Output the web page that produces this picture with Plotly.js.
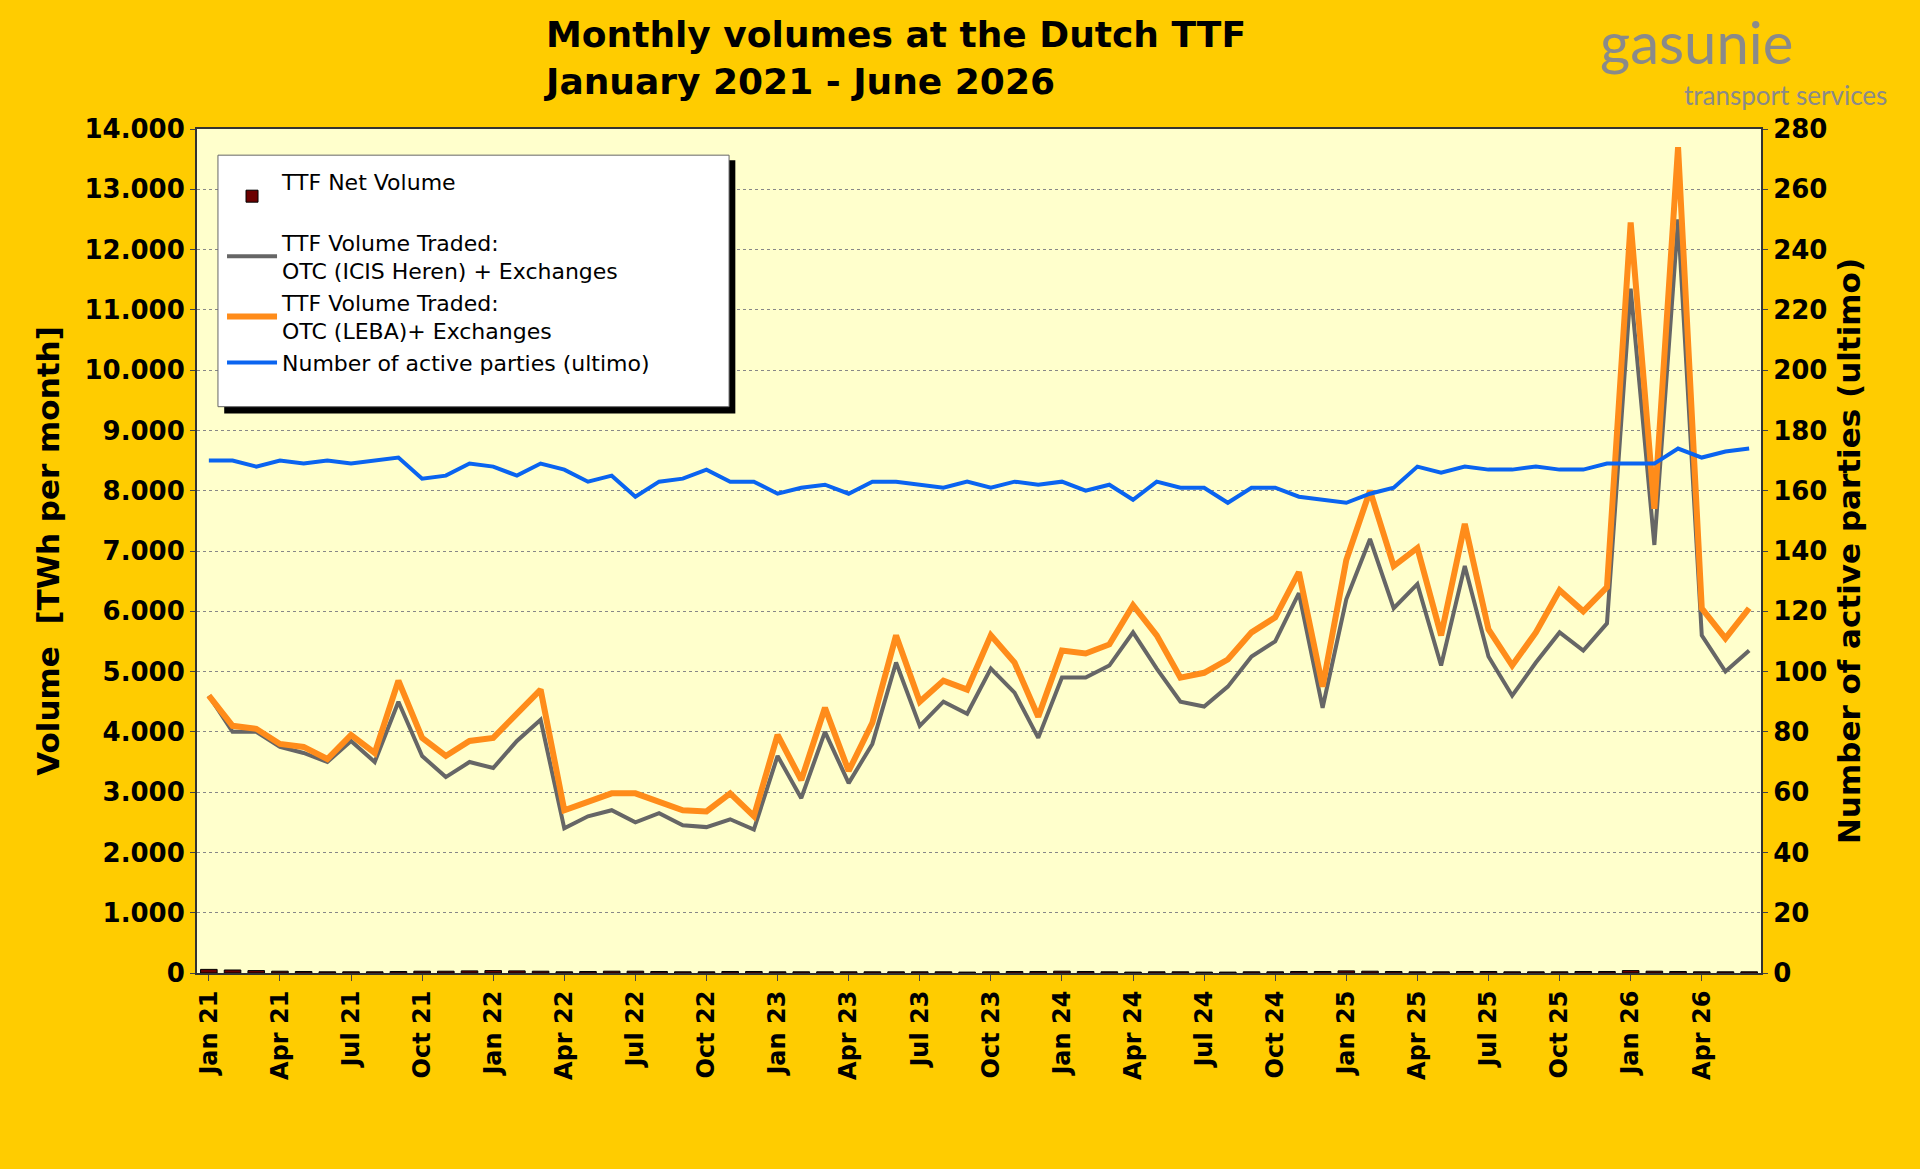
<!DOCTYPE html>
<html><head><meta charset="utf-8">
<script src="https://cdn.plot.ly/plotly-3.0.1.min.js"></script>
<style>body{margin:0;background:#FFCC00}</style></head>
<body><div id="chart" style="width:1920px;height:1169px"></div>
<script>
const months = [];
const mn = ["Jan","Feb","Mar","Apr","May","Jun","Jul","Aug","Sep","Oct","Nov","Dec"];
for (let y = 21; y <= 26; y++) for (let m = 0; m < 12; m++) { if (y === 26 && m > 5) break; months.push(mn[m] + " " + y); }
const tickLabels = months.filter((_, i) => i % 3 === 0);
const netVolume = [60,50,40,30,25,20,20,20,25,30,30,35,40,35,30,20,25,30,30,25,20,20,25,25,20,20,20,20,20,20,20,20,15,20,25,25,30,25,20,15,20,20,15,15,20,20,25,25,35,30,25,20,20,25,25,20,20,20,25,25,40,30,25,20,20,20];
const volICIS = [4.6,4.0,4.0,3.75,3.65,3.5,3.85,3.5,4.5,3.6,3.25,3.5,3.4,3.85,4.2,2.4,2.6,2.7,2.5,2.65,2.45,2.42,2.55,2.38,3.6,2.9,4.0,3.15,3.8,5.15,4.1,4.5,4.3,5.05,4.65,3.9,4.9,4.9,5.1,5.65,5.05,4.5,4.42,4.75,5.25,5.5,6.3,4.4,6.2,7.2,6.05,6.45,5.1,6.75,5.25,4.6,5.15,5.65,5.35,5.8,11.35,7.1,12.5,5.6,5.0,5.35].map(v=>v*1000);
const volLEBA = [4.6,4.1,4.05,3.8,3.75,3.55,3.95,3.65,4.85,3.9,3.6,3.85,3.9,4.3,4.7,2.7,2.85,2.98,2.98,2.85,2.7,2.68,2.98,2.6,3.95,3.2,4.4,3.35,4.15,5.6,4.5,4.85,4.7,5.6,5.15,4.25,5.35,5.3,5.45,6.1,5.6,4.9,4.98,5.2,5.65,5.9,6.65,4.75,6.85,8.0,6.75,7.05,5.6,7.45,5.7,5.1,5.65,6.35,6.0,6.4,12.45,7.7,13.7,6.05,5.55,6.05].map(v=>v*1000);
const parties = [170,170,168,170,169,170,169,170,171,164,165,169,168,165,169,167,163,165,158,163,164,167,163,163,159,161,162,159,163,163,162,161,163,161,163,162,163,160,162,157,163,161,161,156,161,161,158,157,156,159,161,168,166,168,167,167,168,167,167,169,169,169,174,171,173,174];

const F = "DejaVu Sans";
const traces = [
 {type:"bar", x:months, y:netVolume, name:"TTF Net Volume<br> ", marker:{color:"#6B0000", line:{color:"#000", width:1}}, yaxis:"y"},
 {type:"scatter", mode:"lines", x:months, y:volICIS, name:"TTF Volume Traded:<br>OTC (ICIS Heren) + Exchanges", line:{color:"#666666", width:4}, yaxis:"y"},
 {type:"scatter", mode:"lines", x:months, y:volLEBA, name:"TTF Volume Traded:<br>OTC (LEBA)+ Exchanges", line:{color:"#FF8C1A", width:6}, yaxis:"y"},
 {type:"scatter", mode:"lines", x:months, y:parties, name:"Number of active parties (ultimo)", line:{color:"#0A64F0", width:4}, yaxis:"y2"}
];
const layout = {
 width:1920, height:1169, paper_bgcolor:"#FFCC00", plot_bgcolor:"#FFFFCC",
 separators:",.", showlegend:true, bargap:0.3,
 margin:{l:197, r:159, t:129, b:196},
 font:{family:F, color:"#000"},
 xaxis:{type:"category", tickvals:tickLabels, ticktext:tickLabels, tickangle:-90, tickfont:{size:24, family:F, weight:"bold"}, showline:true, linecolor:"#333", linewidth:2, ticks:"outside", ticklen:6, showgrid:false, mirror:true},
 yaxis:{range:[0,14000], dtick:1000, tickformat:",d", tickfont:{size:26, family:F, weight:"bold"}, showgrid:true, gridcolor:"#888", griddash:"dot", gridwidth:1, showline:true, linecolor:"#333", linewidth:2, ticks:"outside", title:{text:"Volume  [TWh per month]", font:{size:31, family:F, weight:"bold"}, standoff:16}},
 yaxis2:{range:[0,280], dtick:20, overlaying:"y", side:"right", tickfont:{size:26, family:F, weight:"bold"}, showgrid:false, showline:true, linecolor:"#333", linewidth:2, ticks:"outside", title:{text:"Number of active parties (ultimo)", font:{size:31, family:F, weight:"bold"}, standoff:12}},
 legend:{x:0.016, y:0.962, xanchor:"left", yanchor:"top", bgcolor:"rgba(0,0,0,0)", borderwidth:0, font:{size:22, family:F}, tracegroupgap:0, itemwidth:50},
 annotations:[
  {xref:"paper", yref:"paper", x:0.22, y:1.03, xanchor:"left", yanchor:"bottom", showarrow:false, align:"left", text:"<b>Monthly volumes at the Dutch TTF<br>January 2021 - June 2026</b>", font:{size:36, family:F, color:"#000"}},
  {xref:"paper", yref:"paper", x:1.021, y:1.062, xanchor:"right", yanchor:"bottom", showarrow:false, borderpad:0, text:"gasunie", font:{size:58, family:"Lato", color:"#8A8A8A"}},
  {xref:"paper", yref:"paper", x:1.081, y:1.02, xanchor:"right", yanchor:"bottom", showarrow:false, borderpad:0, text:"transport services", font:{size:26, family:"Lato", color:"#8A8A8A"}}
 ],
 shapes:[
  {type:"rect", xref:"paper", yref:"paper", x0:0.0174, x1:0.3442, y0:0.663, y1:0.963, fillcolor:"#000", line:{width:0}, layer:"above"},
  {type:"rect", xref:"paper", yref:"paper", x0:0.0134, x1:0.3402, y0:0.671, y1:0.969, fillcolor:"#FFFFFF", line:{color:"#666", width:1}, layer:"above"}
 ]
};
Plotly.newPlot("chart", traces, layout, {displayModeBar:false});
</script></body></html>
